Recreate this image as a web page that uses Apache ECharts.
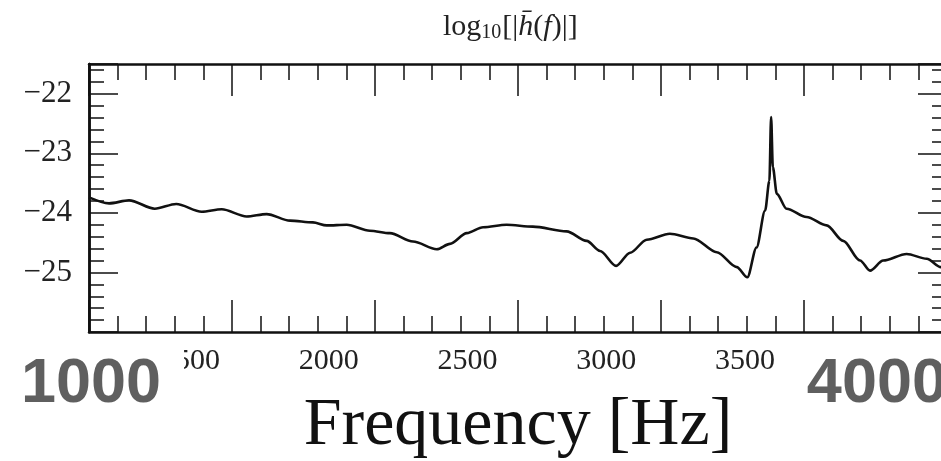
<!DOCTYPE html>
<html>
<head>
<meta charset="utf-8">
<script src="https://cdn.jsdelivr.net/npm/echarts@6/dist/echarts.min.js"></script>
<style>
  html, body { margin: 0; padding: 0; background: #fff; }
  #chart { width: 941px; height: 461px; }
</style>
</head>
<body>
<div id="chart"></div>
<script>
// ---- data ----
const freqHz = [1000,1070,1140,1230,1305,1394,1464,1551,1621,1703,1783,1831,1901,1982,2052,2133,2216,2262,2321,2378,2460,2552,2670,2740,2787,2843,2892,2950,3031,3113,3195,3265,3302,3334,3364,3379,3385,3391,3405,3439,3509,3579,3637,3696,3731,3777,3859,3929,3979,4000];
const log10Strain = [-23.74,-23.84,-23.79,-23.93,-23.85,-23.98,-23.94,-24.06,-24.02,-24.13,-24.16,-24.21,-24.20,-24.30,-24.34,-24.48,-24.61,-24.52,-24.34,-24.24,-24.20,-24.23,-24.31,-24.47,-24.64,-24.89,-24.67,-24.45,-24.35,-24.43,-24.66,-24.91,-25.08,-24.58,-23.96,-23.46,-22.39,-23.23,-23.68,-23.93,-24.07,-24.21,-24.47,-24.80,-24.97,-24.80,-24.69,-24.77,-24.91,-24.95];

// tick labels
const xEdgeLabels = [1000, 4000];                 // large grey labels
const xStripLabels = [1500, 2000, 2500, 3000, 3500]; // serif labels of the pasted strip
const yTickLabels = [-25, -24, -23, -22];

// axis ranges
const xMin = 1000, xMax = 4000, xMajor = 500, xMinorSplit = 5;
const yMin = -26, yMax = -21.5, yMajor = 1, yMinor = 0.2;
// the serif label strip in the reference sits on a slightly different scale
const stripMin = 1136, stripMax = 4228;

const ink = '#111';
const serif = 'Liberation Serif, Times New Roman, serif';

const chart = echarts.init(document.getElementById('chart'), null, { renderer: 'canvas' });

function frameX(pos, withLabels) {
  return {
    type: 'value', position: pos, min: xMin, max: xMax, interval: xMajor,
    gridIndex: 0, z: 3,
    axisLine: { show: true, onZero: false, lineStyle: { color: ink, width: 2.5 } },
    axisTick: { show: true, inside: true, length: 32, lineStyle: { color: ink, width: 1.5 } },
    minorTick: { show: true, splitNumber: xMinorSplit, length: 16, lineStyle: { color: ink, width: 1.5 } },
    splitLine: { show: false },
    axisLabel: withLabels ? {
      show: true,
      customValues: xEdgeLabels,
      margin: 3,
      alignMinLabel: 'center',
      alignMaxLabel: 'right',
      formatter: v => (v === xEdgeLabels[0] ? '{bigL|' + v + '}' : '{big|' + v + '}'),
      rich: {
        big: { fontFamily: 'Liberation Sans, Arial, sans-serif', fontWeight: 'bold', fontSize: 63, color: '#5f5f5f', padding: [18, 0, 8, 0] },
        bigL: { fontFamily: 'Liberation Sans, Arial, sans-serif', fontWeight: 'bold', fontSize: 63, color: '#5f5f5f', backgroundColor: '#fff', padding: [18, 23, 8, 27] }
      }
    } : { show: false }
  };
}

function frameY(pos, step, len, labels) {
  return {
    type: 'value', position: pos, min: yMin, max: yMax, interval: step,
    gridIndex: 0,
    axisLine: { show: true, onZero: false, lineStyle: { color: ink, width: 2.5 } },
    axisTick: { show: true, inside: true, length: len, lineStyle: { color: ink, width: 1.5 } },
    splitLine: { show: false },
    axisLabel: labels ? {
      show: true,
      customValues: yTickLabels,
      margin: 17,
      fontFamily: serif, fontSize: 31, color: '#222',
      formatter: v => '\u2212' + Math.abs(v)
    } : { show: false }
  };
}

const main = frameX('bottom', true);
main.name = 'Frequency [Hz]';
main.nameLocation = 'middle';
main.nameGap = 60;
main.nameMoveOverlap = false;
main.nameTextStyle = { fontFamily: serif, fontSize: 68, color: '#111' };

const option = {
  backgroundColor: '#fff',
  animation: false,
  title: {
    left: 438, top: 6,
    text: '{n|log}{s|10}{n|[|}{i|h\u0304}{n|(}{i|f}{n|)|]}',
    textStyle: {
      fontWeight: 'normal',
      rich: {
        n: { fontFamily: serif, fontSize: 30, fontWeight: 'normal', color: '#222' },
        i: { fontFamily: serif, fontSize: 30, fontWeight: 'normal', fontStyle: 'italic', color: '#222' },
        s: { fontFamily: serif, fontSize: 20, fontWeight: 'normal', color: '#222', verticalAlign: 'bottom', padding: [12, 1, 0, 0] }
      }
    }
  },
  grid: { left: 89, top: 64, right: -6, bottom: 129, containLabel: false, outerBoundsMode: 'none' },
  xAxis: [
    main,
    frameX('top', false),
    {
      type: 'value', position: 'bottom', min: stripMin, max: stripMax, gridIndex: 0, z: 2,
      axisLine: { show: false }, axisTick: { show: false }, splitLine: { show: false },
      axisLabel: { show: true, customValues: xStripLabels, margin: 14, fontFamily: serif, fontSize: 30, color: '#222', formatter: v => String(v) }
    }
  ],
  yAxis: [
    frameY('left', yMajor, 29, true),
    frameY('left', yMinor, 15, false),
    frameY('right', yMajor, 29, false),
    frameY('right', yMinor, 15, false)
  ],
  series: [{
    type: 'line',
    xAxisIndex: 0, yAxisIndex: 0,
    data: freqHz.map((f, i) => [f, log10Strain[i]]),
    showSymbol: false,
    smooth: 0.3,
    smoothMonotone: 'x',
    lineStyle: { color: ink, width: 2.6 },
    z: 5
  }]
};
chart.setOption(option);
</script>
</body>
</html>
